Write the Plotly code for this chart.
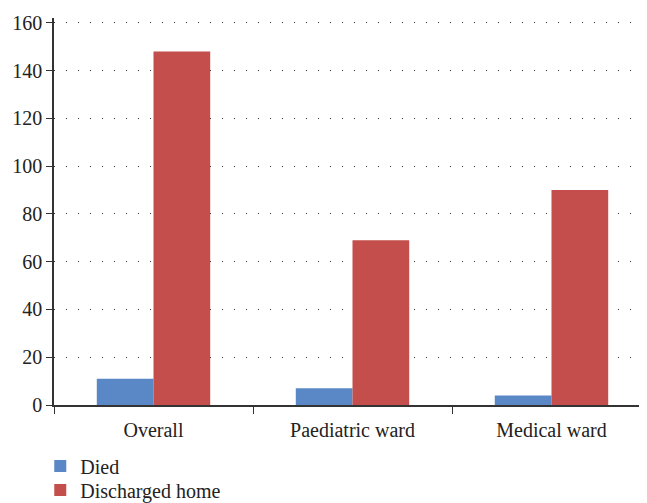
import plotly.graph_objects as go

categories = ["Overall", "Paediatric ward", "Medical ward"]
died = [11, 7, 4]
discharged = [148, 69, 90]
y_ticks = [0, 20, 40, 60, 80, 100, 120, 140, 160]

font_family = "Liberation Serif, Times New Roman, serif"

fig = go.Figure()
fig.add_trace(go.Bar(name="Died", x=categories, y=died, marker_color="#5A87C5",
                     marker_line_width=0, legend="legend"))
fig.add_trace(go.Bar(name="Discharged home", x=categories, y=discharged,
                     marker_color="#C34E4B", marker_line_width=0, legend="legend2"))

legend_common = dict(x=-0.023, xanchor="left", yanchor="top",
                     font=dict(size=20, family=font_family, color="#222222"),
                     itemwidth=30, bgcolor="rgba(0,0,0,0)")

fig.update_layout(
    width=647, height=503,
    margin=dict(l=46, r=4, t=10, b=106, autoexpand=False),
    barmode="group", bargap=0.43, bargroupgap=0,
    plot_bgcolor="white", paper_bgcolor="white",
    font=dict(family=font_family, size=20, color="#222222"),
    showlegend=True,
    legend=dict(y=-0.107, **legend_common),
    legend2=dict(y=-0.169, **legend_common),
)
fig.update_xaxes(
    range=[-0.5, 2.5], automargin=False,
    showline=True, linecolor="#333333", linewidth=1.5,
    ticks="outside", tickson="boundaries", ticklen=7, tickcolor="#333333",
    tickfont=dict(size=20, family=font_family), ticklabelstandoff=6,
    showgrid=False,
)
fig.update_yaxes(
    range=[0, 162], tickvals=y_ticks, automargin=False,
    showline=True, linecolor="#333333", linewidth=1.5,
    ticks="outside", ticklen=6, tickcolor="#333333",
    tickfont=dict(size=20, family=font_family),
    showgrid=True, gridcolor="#333333", gridwidth=1, griddash="1px,11px",
    zeroline=False,
)

fig.write_html("out.html")
